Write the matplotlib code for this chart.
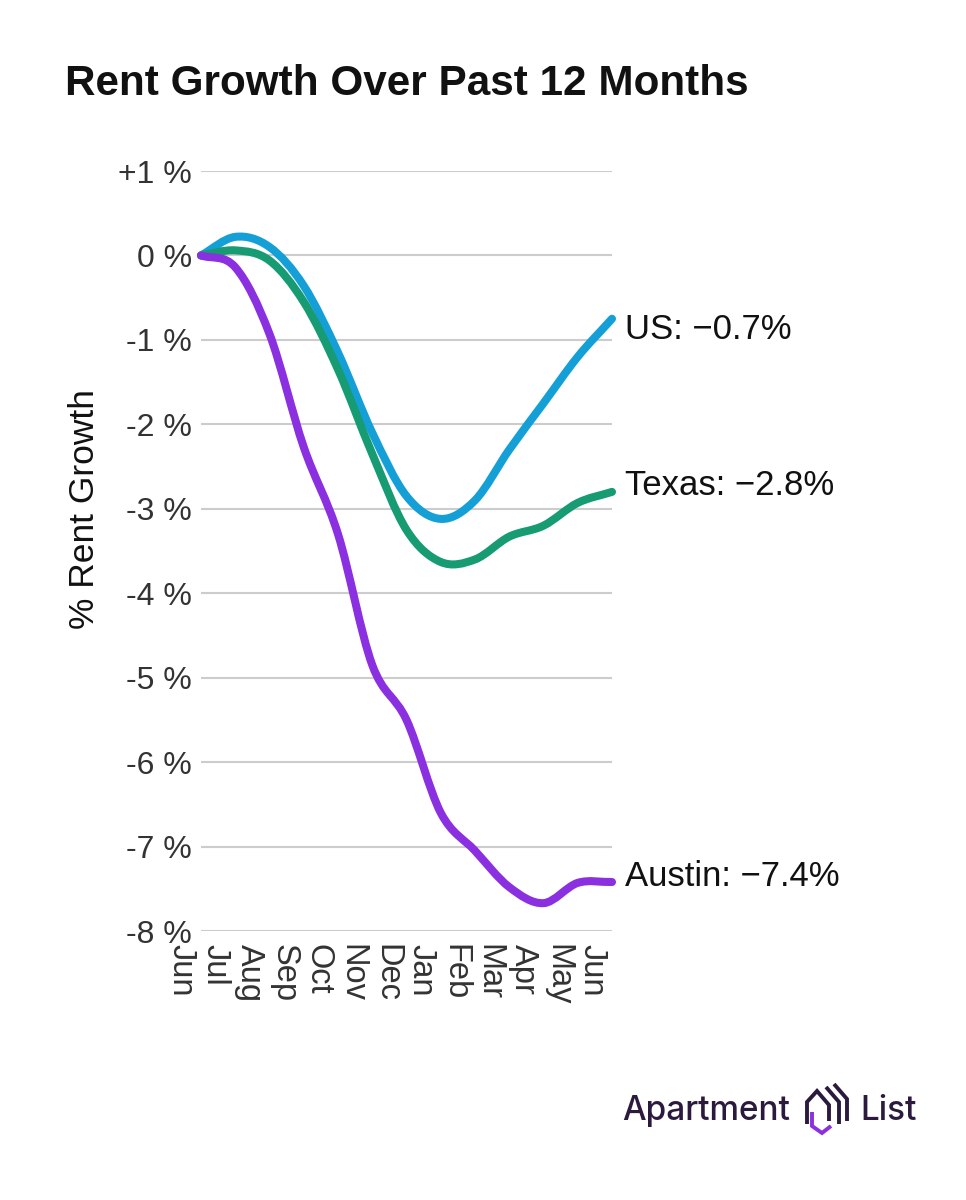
import matplotlib.pyplot as plt
import matplotlib.transforms as mtransforms
from matplotlib.path import Path
from matplotlib.patches import PathPatch
from matplotlib.lines import Line2D
import numpy as np

plt.rcParams['font.family'] = ['Liberation Sans', 'DejaVu Sans']

# monthly rent growth, % since June of the previous year
months = ['Jun', 'Jul', 'Aug', 'Sep', 'Oct', 'Nov', 'Dec', 'Jan', 'Feb', 'Mar', 'Apr', 'May', 'Jun']
us = [0, 0.22, 0.10, -0.36, -1.15, -2.10, -2.85, -3.12, -2.90, -2.30, -1.75, -1.20, -0.75]
texas = [0, 0.06, -0.06, -0.55, -1.35, -2.35, -3.25, -3.63, -3.60, -3.33, -3.20, -2.93, -2.80]
austin = [0, -0.14, -0.93, -2.27, -3.30, -4.85, -5.50, -6.60, -7.05, -7.48, -7.67, -7.43, -7.42]

series_names = ['US', 'Texas', 'Austin']
series_values = [us, texas, austin]
end_labels = ['US: \u22120.7%', 'Texas: \u22122.8%', 'Austin: \u22127.4%']

yticks = [1, 0, -1, -2, -3, -4, -5, -6, -7, -8]
ytick_labels = ['+1 %', '0 %', '-1 %', '-2 %', '-3 %', '-4 %', '-5 %', '-6 %', '-7 %', '-8 %']

colors = ['#14a0d7', '#169b73', '#8a30e0']
label_dy = [-14.5, -2.5, -3]


def smooth_path(y):
    # catmull-rom style curve drawn as cubic bezier segments
    y = np.asarray(y, float)
    x = np.arange(len(y), dtype=float)
    m = np.gradient(y)
    verts = [(x[0], y[0])]
    codes = [Path.MOVETO]
    for i in range(len(y) - 1):
        verts += [(x[i] + 1 / 3, y[i] + m[i] / 3),
                  (x[i + 1] - 1 / 3, y[i + 1] - m[i + 1] / 3),
                  (x[i + 1], y[i + 1])]
        codes += [Path.CURVE4] * 3
    return Path(verts, codes)


W, H = 966, 1200
fig = plt.figure(figsize=(W / 100, H / 100), dpi=100)
ax = fig.add_axes([201 / W, 1 - 931 / H, (612 - 201) / W, (931 - 171) / H])
ax.set_xlim(0, len(months) - 1)
ax.set_ylim(-8, 1)

for s in ax.spines.values():
    s.set_visible(False)
ax.set_yticks(yticks)
ax.set_yticklabels(ytick_labels)
ax.yaxis.grid(True, color='#cccccc', linewidth=1.5)
ax.set_axisbelow(True)
ax.tick_params(axis='y', length=0, pad=6.5, labelsize=23, labelcolor='#333333')

ax.set_xticks(range(len(months)))
ax.set_xticklabels(months, rotation=-90)
ax.tick_params(axis='x', length=0, pad=9, labelsize=23.5, labelcolor='#333333')
shift = mtransforms.ScaledTranslation(-0.2, 0, fig.dpi_scale_trans)
for lab in ax.get_xticklabels():
    lab.set_transform(lab.get_transform() + shift)

for vals, col, lab, dy in zip(series_values, colors, end_labels, label_dy):
    patch = PathPatch(smooth_path(vals), fill=False, edgecolor=col, linewidth=5.8,
                      capstyle='round', joinstyle='round', clip_on=False, zorder=3)
    ax.add_patch(patch)
    ax.annotate(lab, xy=(len(vals) - 1, vals[-1]), xytext=(9.4, dy),
                textcoords='offset points', va='baseline', ha='left',
                fontsize=25, color='#111111', annotation_clip=False)

fig.text(65 / W, 1 - 95 / H, 'Rent Growth Over Past 12 Months', fontsize=30.4,
         fontweight='bold', color='#111111', va='baseline', ha='left')
fig.text(85 / W, 1 - 509 / H, '% Rent Growth', fontsize=25.5, rotation=90,
         color='#111111', va='center', ha='center')

# logo
logo_col = '#2b1a3e'
fig.text(622 / W, 1 - 1120 / H, 'Apartment', fontsize=24, color=logo_col,
         family=['Inter', 'DejaVu Sans'], fontweight='medium', va='baseline', ha='left')
fig.text(860 / W, 1 - 1120 / H, 'List', fontsize=24, color=logo_col,
         family=['Inter', 'DejaVu Sans'], fontweight='medium', va='baseline', ha='left')


def px(pts):
    return [p[0] / W for p in pts], [1 - p[1] / H for p in pts]


icon = [
    ([(807, 1124), (807, 1102), (817, 1091), (829, 1105), (829, 1121)], logo_col),
    ([(812, 1112), (812, 1126), (822, 1133), (831, 1126)], '#8a30e0'),
    ([(826, 1087), (839, 1102), (839, 1124)], logo_col),
    ([(834, 1084), (847, 1099), (847, 1121)], logo_col),
]
for pts, col in icon:
    xs, ys = px(pts)
    fig.add_artist(Line2D(xs, ys, transform=fig.transFigure, color=col,
                          linewidth=2.8, solid_joinstyle='miter', solid_capstyle='butt'))

fig.savefig('out.png', dpi=100, facecolor='white')
